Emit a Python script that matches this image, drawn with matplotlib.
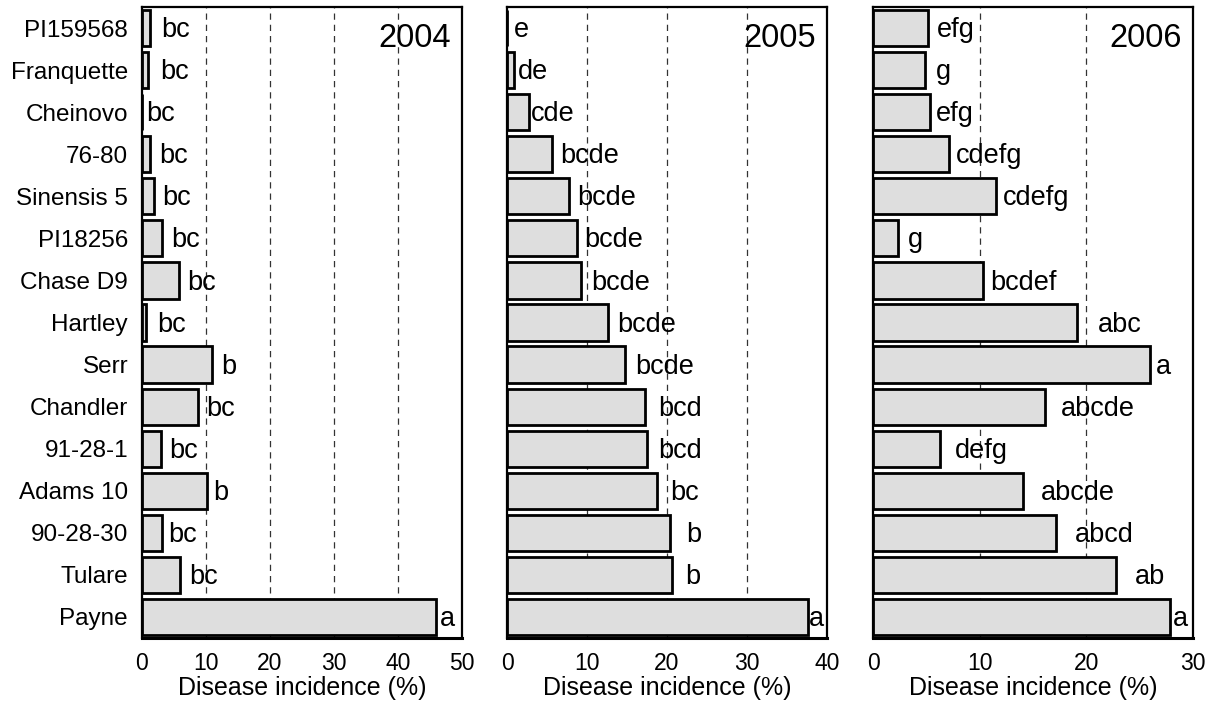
import matplotlib
matplotlib.use('Agg')
import matplotlib.pyplot as plt

plt.rcParams['font.family'] = ['Liberation Sans', 'DejaVu Sans']

cultivars = ['PI159568', 'Franquette', 'Cheinovo', '76-80', 'Sinensis 5', 'PI18256',
             'Chase D9', 'Hartley', 'Serr', 'Chandler', '91-28-1', 'Adams 10',
             '90-28-30', 'Tulare', 'Payne']
years = ['2004', '2005', '2006']

inc_2004 = [1.3, 1.0, 0.0, 1.25, 1.8, 3.2, 5.8, 0.6, 10.9, 8.7, 3.0, 10.2, 3.1, 6.0, 46.0]
inc_2005 = [0.0, 0.9, 2.7, 5.6, 7.8, 8.8, 9.3, 12.6, 14.7, 17.2, 17.5, 18.7, 20.4, 20.6, 37.6]
inc_2006 = [5.15, 4.9, 5.3, 7.1, 11.5, 2.3, 10.3, 19.1, 26.0, 16.1, 6.3, 14.1, 17.2, 22.8, 27.8]

grp_2004 = ['bc'] * 8 + ['b', 'bc', 'bc', 'b', 'bc', 'bc', 'a']
grp_2005 = ['e', 'de', 'cde', 'bcde', 'bcde', 'bcde', 'bcde', 'bcde', 'bcde',
            'bcd', 'bcd', 'bc', 'b', 'b', 'a']
grp_2006 = ['efg', 'g', 'efg', 'cdefg', 'cdefg', 'g', 'bcdef', 'abc', 'a',
            'abcde', 'defg', 'abcde', 'abcd', 'ab', 'a']

xmax = [50, 40, 30]

# gap (pixels) between bar end and its letter label
pad_2004 = [12, 13, 6, 11, 10, 10, 9, 13, 11, 10, 9, 7, 8, 10, 5]
pad_2005 = [8, 5, 4, 10, 9, 8, 11, 11, 12, 15, 13, 15, 17, 15, 2]
pad_2006 = [10, 12, 8, 9, 9, 12, 9, 23, 7, 18, 16, 19, 20, 20, 5]

data = [inc_2004, inc_2005, inc_2006]
groups = [grp_2004, grp_2005, grp_2006]
pads = [pad_2004, pad_2005, pad_2006]

fig = plt.figure(figsize=(12.2, 7.04), dpi=100)
lefts = [142 / 1220, 507 / 1220, 873 / 1220]
width = 320 / 1220
bottom = 66 / 704
height = 631 / 704

n = len(cultivars)
ypos = [n - 1 - i for i in range(n)]

for k in range(3):
    ax = fig.add_axes([lefts[k], bottom, width, height])
    for g in range(10, xmax[k], 10):
        ax.axvline(g, color='#333333', linestyle=(0, (5, 4)), linewidth=0.9, zorder=0)
    ax.barh(ypos, data[k], height=0.86, color='#dedede', edgecolor='black',
            linewidth=2, zorder=2)
    for i in range(n):
        ax.annotate(groups[k][i], xy=(data[k][i], ypos[i]),
                    xytext=(pads[k][i] * 0.72 - 1, -1.5), textcoords='offset points',
                    ha='left', va='center', fontsize=19.5, zorder=3)
    ax.set_xlim(0, xmax[k])
    ax.set_ylim(-0.5, n - 0.5)
    ax.set_xticks(range(0, xmax[k] + 1, 10))
    ax.tick_params(axis='x', length=0, pad=10, labelsize=16.5)
    ax.set_xlabel('Disease incidence (%)', fontsize=18, labelpad=1)
    if k == 0:
        ax.set_yticks(ypos)
        ax.set_yticklabels(cultivars, fontsize=17.5)
        ax.tick_params(axis='y', length=0, pad=10)
    else:
        ax.set_yticks([])
    for s in ax.spines.values():
        s.set_linewidth(1.6)
    ax.spines['bottom'].set_linewidth(2.2)
    ax.annotate(years[k], xy=(1, 1), xycoords='axes fraction',
                xytext=(-8, -11.5), textcoords='offset points',
                ha='right', va='top', fontsize=23.5)

fig.savefig('out.png', dpi=100)
